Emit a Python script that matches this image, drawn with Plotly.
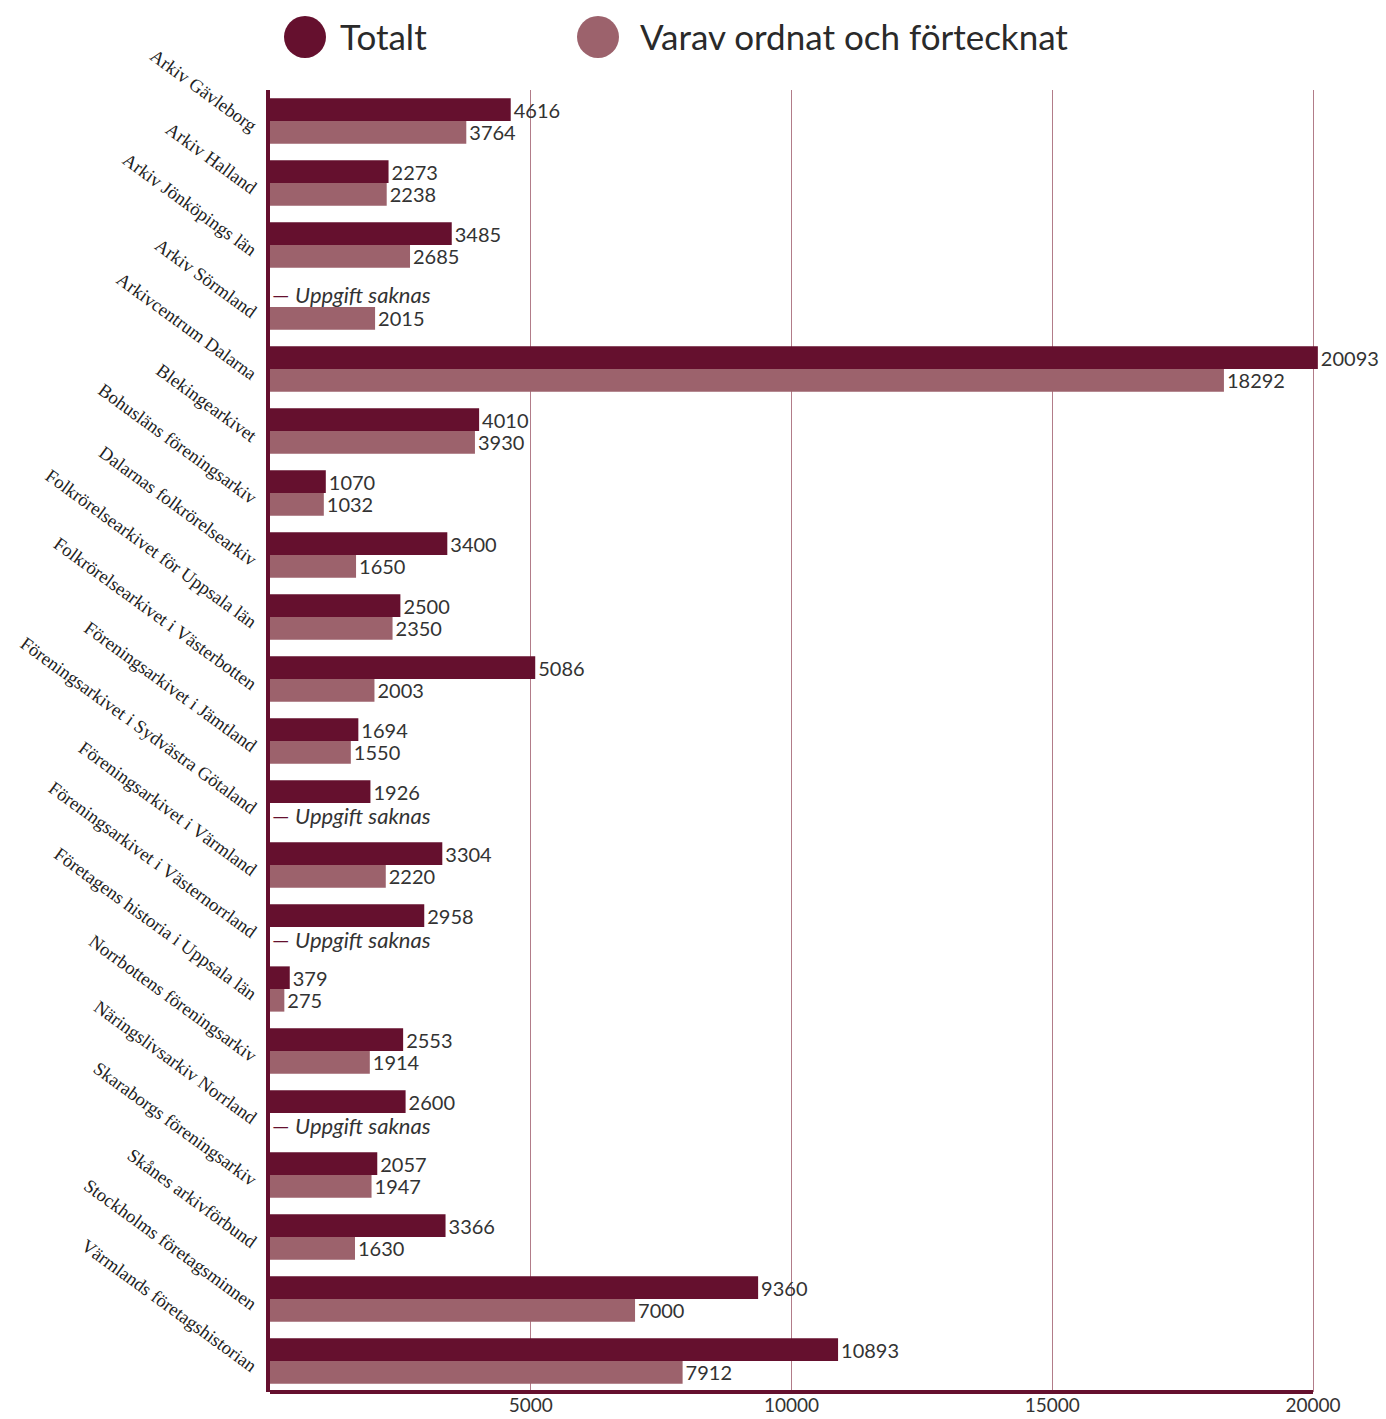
import plotly.graph_objects as go

categories = [
    "Arkiv Gävleborg", "Arkiv Halland", "Arkiv Jönköpings län", "Arkiv Sörmland",
    "Arkivcentrum Dalarna", "Blekingearkivet", "Bohusläns föreningsarkiv",
    "Dalarnas folkrörelsearkiv", "Folkrörelsearkivet för Uppsala län",
    "Folkrörelsearkivet i Västerbotten", "Föreningsarkivet i Jämtland",
    "Föreningsarkivet i Sydvästra Götaland", "Föreningsarkivet i Värmland",
    "Föreningsarkivet i Västernorrland", "Företagens historia i Uppsala län",
    "Norrbottens föreningsarkiv", "Näringslivsarkiv Norrland",
    "Skaraborgs föreningsarkiv", "Skånes arkivförbund",
    "Stockholms företagsminnen", "Värmlands företagshistorian",
]
totalt = [4616, 2273, 3485, None, 20093, 4010, 1070, 3400, 2500, 5086, 1694,
          1926, 3304, 2958, 379, 2553, 2600, 2057, 3366, 9360, 10893]
varav = [3764, 2238, 2685, 2015, 18292, 3930, 1032, 1650, 2350, 2003, 1550,
         None, 2220, None, 275, 1914, None, 1947, 1630, 7000, 7912]
series_names = ["Totalt", "Varav ordnat och förtecknat"]
tick_vals = [5000, 10000, 15000, 20000]
tick_text = ["5000", "10000", "15000", "20000"]
axis_max = 20000
missing_text = "Uppgift saknas"

C_TOT = "#65102E"
C_VAR = "#9C626C"
TXT = "#333333"
SANS = "Lato, 'Open Sans', sans-serif"
SERIF = "'Liberation Serif', 'DejaVu Serif', serif"

W, H = 1386, 1419
L, T, B = 270, 90, 27
X0_PX, X20K_PX = 270, 1313          # pixel of 0 and of 20000
R_EDGE = 1381                       # right edge of plot area (px)
R = W - R_EDGE
PW, PH = R_EDGE - L, H - T - B
x_range_max = (R_EDGE - X0_PX) / (X20K_PX - X0_PX) * axis_max


def px2paper_x(px):
    return (px - L) / PW


def px2paper_y(py):
    return (H - B - py) / PH


fig = go.Figure()
for name, vals, col in [(series_names[0], totalt, C_TOT), (series_names[1], varav, C_VAR)]:
    fig.add_trace(go.Bar(
        y=categories, x=vals, orientation="h", name=name,
        marker=dict(color=col, line=dict(width=0)),
        text=[("" if v is None else str(v)) for v in vals],
        textposition="outside", constraintext="none",
        textfont=dict(family=SANS, size=20, color=TXT),
        cliponaxis=False, showlegend=False,
    ))

annotations = []
for i, cat in enumerate(categories):
    for vals, shift in [(totalt, 13), (varav, -12)]:
        if vals[i] is None:
            annotations.append(dict(
                x=0, y=cat, xref="x", yref="y", xanchor="left", yanchor="middle",
                xshift=0, yshift=shift, showarrow=False,
                text=f"<span style='color:{C_TOT}'>—</span> <i>{missing_text}</i>",
                font=dict(family=SANS, size=22, color=TXT),
            ))

shapes = []
# bottom axis line, only up to 20000
shapes.append(dict(
    type="line", xref="x", yref="paper", x0=0, x1=axis_max, y0=0, y1=0,
    line=dict(color=C_TOT, width=4), layer="above",
))
# legend (manual, large circles)
for cx, col, tx, label in [(305, C_TOT, 338, series_names[0]), (598, C_VAR, 638, series_names[1])]:
    shapes.append(dict(
        type="circle", xref="paper", yref="paper",
        xsizemode="pixel", ysizemode="pixel",
        xanchor=px2paper_x(cx), yanchor=px2paper_y(37),
        x0=-21, x1=21, y0=-21, y1=21,
        fillcolor=col, line=dict(width=0),
    ))
    annotations.append(dict(
        x=px2paper_x(tx), y=px2paper_y(36), xref="paper", yref="paper",
        xanchor="left", yanchor="middle", showarrow=False, text=label,
        font=dict(family=SANS, size=35, color="#2a2a2a"),
    ))

fig.update_layout(
    width=W, height=H,
    margin=dict(l=L, r=R, t=T, b=B, autoexpand=False),
    paper_bgcolor="white", plot_bgcolor="white",
    barmode="group", bargap=0.27, bargroupgap=0,
    showlegend=False,
    annotations=annotations, shapes=shapes,
    xaxis=dict(
        range=[0, x_range_max], tickvals=tick_vals, ticktext=tick_text,
        showgrid=True, gridcolor="#B27C89", gridwidth=1,
        showline=False, zeroline=False, ticks="",
        tickfont=dict(family=SANS, size=19, color=TXT),
    ),
    yaxis=dict(
        autorange="reversed", type="category",
        showgrid=False, showline=True, linecolor=C_TOT, linewidth=4,
        ticks="", tickangle=36, ticklabelstandoff=6, ticklabelshift=-7,
        tickfont=dict(family=SERIF, size=18.6, color="#222222"),
    ),
)

fig.write_html(
    "out.html",
    config={"displayModeBar": False},
    post_script="document.body.style.margin='0px';document.body.style.overflow='hidden';",
)
